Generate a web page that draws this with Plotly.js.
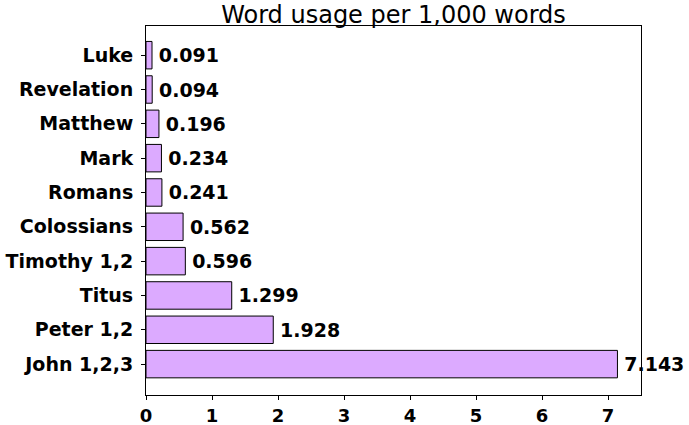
<!DOCTYPE html>
<html>
<head>
<meta charset="utf-8">
<script src="https://cdn.plot.ly/plotly-3.0.1.min.js"></script>
<style>
  html, body { margin: 0; padding: 0; background: #fff; }
  #plotDiv { width: 689px; height: 425px; }
</style>
</head>
<body>
<div id="plotDiv"></div>
<script>
// books, bottom to top as drawn
const books = ['John 1,2,3', 'Peter 1,2', 'Titus', 'Timothy 1,2', 'Colossians',
               'Romans', 'Mark', 'Matthew', 'Revelation', 'Luke']
const usage = [7.143, 1.928, 1.299, 0.596, 0.562, 0.241, 0.234, 0.196, 0.094, 0.091]
const xTicks = [0, 1, 2, 3, 4, 5, 6, 7]

const labels = usage.map(v => '\u2009' + v.toFixed(3))

const boldFont = {family: 'DejaVu Sans', size: 19, weight: 'bold', color: '#000'}

const trace = {
	type: 'bar',
	orientation: 'h',
	x: usage,
	y: books,
	width: 0.8,
	text: labels,
	textposition: 'outside',
	constraintext: 'none',
	cliponaxis: false,
	textfont: boldFont,
	marker: {color: '#dcaaff', line: {color: '#000', width: 1}},
	hoverinfo: 'none'
}

const layout = {
	width: 689,
	height: 425,
	margin: {l: 146, r: 48, t: 26, b: 30},
	paper_bgcolor: '#fff',
	plot_bgcolor: '#fff',
	showlegend: false,
	title: {
		text: 'Word usage per 1,000 words',
		font: {family: 'DejaVu Sans', size: 24, color: '#000'},
		x: 0.5, xref: 'paper', xanchor: 'center',
		y: 1, yref: 'paper', yanchor: 'bottom', pad: {b: 3}
	},
	xaxis: {
		range: [0, 7.5],
		tickvals: xTicks,
		ticks: 'outside', ticklen: 4, tickcolor: '#000',
		ticklabelstandoff: 0,
		tickfont: {family: 'DejaVu Sans', size: 18, weight: 'bold', color: '#000'},
		showgrid: false, zeroline: false,
		showline: true, linecolor: '#000', linewidth: 1, mirror: true,
		fixedrange: true
	},
	yaxis: {
		type: 'category',
		range: [-0.9, 9.85],
		ticks: 'outside', ticklen: 4, tickcolor: '#000',
		ticklabelstandoff: 4,
		tickfont: boldFont,
		showgrid: false, zeroline: false,
		showline: true, linecolor: '#000', linewidth: 1, mirror: true,
		fixedrange: true
	}
}

Plotly.newPlot('plotDiv', [trace], layout, {displayModeBar: false, staticPlot: true})
</script>
</body>
</html>
